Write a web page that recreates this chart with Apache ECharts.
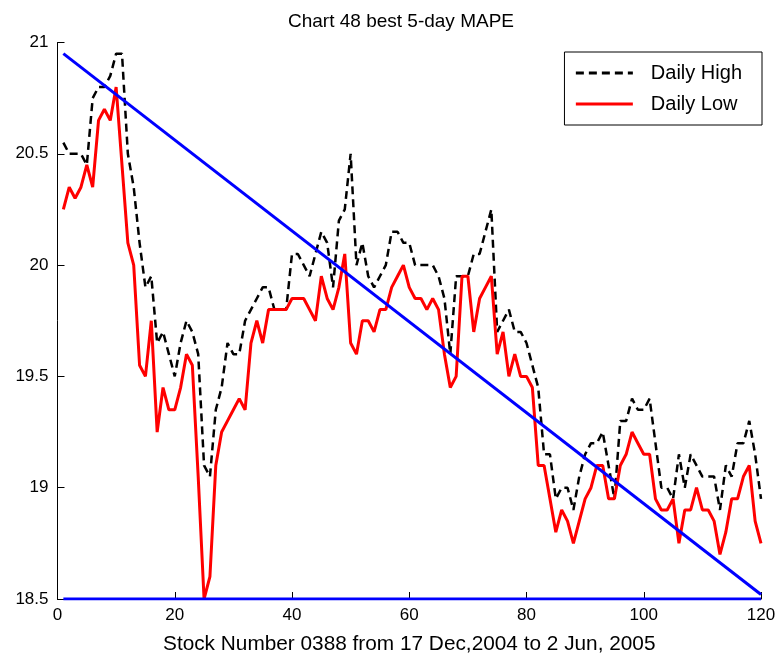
<!DOCTYPE html>
<html>
<head>
<meta charset="utf-8">
<title>Chart 48 best 5-day MAPE</title>
<script src="https://cdn.jsdelivr.net/npm/echarts@6/dist/echarts.min.js"></script>
<style>
  html, body { margin: 0; padding: 0; background: #fff; }
  #chart { width: 783px; height: 661px; }
</style>
</head>
<body>
<div id="chart"></div>
<script>
// Daily high / low prices for stock 0388, trading days 1..120
const dailyHigh = [
  20.55, 20.5, 20.5, 20.5, 20.45, 20.75, 20.8, 20.8, 20.85, 20.95,
  20.95, 20.5, 20.35, 20.1, 19.9, 19.95, 19.65, 19.7, 19.6, 19.5,
  19.65, 19.75, 19.7, 19.6, 19.1, 19.05, 19.35, 19.45, 19.65, 19.6,
  19.6, 19.75, 19.8, 19.85, 19.9, 19.9, 19.8, 19.8, 19.8, 20.05,
  20.05, 20.0, 19.95, 20.05, 20.15, 20.1, 19.9, 20.2, 20.25, 20.5,
  20.0, 20.1, 19.95, 19.9, 19.95, 20.0, 20.15, 20.15, 20.1, 20.1,
  20.0, 20.0, 20.0, 20.0, 19.95, 19.85, 19.6, 19.95, 19.95, 19.95,
  20.05, 20.05, 20.15, 20.25, 19.7, 19.75, 19.8, 19.7, 19.7, 19.65,
  19.55, 19.45, 19.15, 19.15, 18.95, 19.0, 19.0, 18.9, 19.05, 19.15,
  19.2, 19.2, 19.25, 19.1, 18.95, 19.3, 19.3, 19.4, 19.35, 19.35,
  19.4, 19.2, 19.0, 19.0, 18.95, 19.15, 19.0, 19.15, 19.1, 19.05,
  19.05, 19.05, 18.9, 19.1, 19.05, 19.2, 19.2, 19.3, 19.15, 18.95
];
const dailyLow = [
  20.25, 20.35, 20.3, 20.35, 20.45, 20.35, 20.65, 20.7, 20.65, 20.8,
  20.45, 20.1, 20.0, 19.55, 19.5, 19.75, 19.25, 19.45, 19.35, 19.35,
  19.45, 19.6, 19.55, 19.05, 18.5, 18.6, 19.1, 19.25, 19.3, 19.35,
  19.4, 19.35, 19.65, 19.75, 19.65, 19.8, 19.8, 19.8, 19.8, 19.85,
  19.85, 19.85, 19.8, 19.75, 19.95, 19.85, 19.8, 19.9, 20.05, 19.65,
  19.6, 19.75, 19.75, 19.7, 19.8, 19.8, 19.9, 19.95, 20.0, 19.9,
  19.85, 19.85, 19.8, 19.85, 19.8, 19.6, 19.45, 19.5, 19.95, 19.95,
  19.7, 19.85, 19.9, 19.95, 19.6, 19.7, 19.5, 19.6, 19.5, 19.5,
  19.45, 19.1, 19.1, 18.95, 18.8, 18.9, 18.85, 18.75, 18.85, 18.95,
  19.0, 19.1, 19.1, 18.95, 18.95, 19.1, 19.15, 19.25, 19.2, 19.15,
  19.15, 18.95, 18.9, 18.9, 18.95, 18.75, 18.9, 18.9, 19.0, 18.9,
  18.9, 18.85, 18.7, 18.8, 18.95, 18.95, 19.05, 19.1, 18.85, 18.75
];
// Straight trend line from the first to the last day, and the floor line
const trendDays = [1, 120];
const trendValues = [20.95, 18.52];
const floorDays = [1, 120];
const floorValues = [18.5, 18.5];

const xTicks = { min: 0, max: 120, step: 20 };
const yTicks = { min: 18.5, max: 21, step: 0.5 };

const pairs = (xs, ys) => ys.map((v, i) => [xs[i], v]);
const days = dailyHigh.map((_, i) => i + 1);

const FONT = 'Liberation Sans, Arial, sans-serif';
const chart = echarts.init(document.getElementById('chart'), null, { renderer: 'canvas' });

chart.setOption({
  backgroundColor: '#ffffff',
  animation: false,
  title: {
    text: 'Chart 48 best 5-day MAPE',
    left: 396,
    top: 7,
    textAlign: 'center',
    textStyle: { fontFamily: FONT, fontSize: 19, fontWeight: 'normal', color: '#000' }
  },
  legend: {
    orient: 'vertical',
    right: 21,
    top: 52,
    data: ['Daily High', 'Daily Low'],
    itemWidth: 57,
    itemHeight: 14,
    itemGap: 11,
    padding: [11, 20, 11, 10],
    backgroundColor: '#fff',
    borderColor: '#000',
    borderWidth: 1,
    borderRadius: 0,
    // line samples only, no point markers
    itemStyle: { opacity: 0 },
    lineStyle: { opacity: 1, width: 2.8 },
    textStyle: { fontFamily: FONT, fontSize: 20, lineHeight: 20, color: '#000', padding: [0, 0, 0, 13] }
  },
  grid: { left: 57.5, right: 22, top: 42.5, bottom: 62, containLabel: false },
  xAxis: {
    type: 'value',
    min: xTicks.min, max: xTicks.max, interval: xTicks.step,
    name: 'Stock Number 0388 from 17 Dec,2004 to 2 Jun, 2005',
    nameLocation: 'middle',
    nameGap: 35,
    nameTextStyle: { fontFamily: FONT, fontSize: 20.8, color: '#000' },
    axisLine: { show: true, onZero: false, lineStyle: { color: '#000', width: 1 } },
    axisTick: { show: true, inside: true, length: 7, lineStyle: { color: '#000' } },
    axisLabel: { fontFamily: FONT, fontSize: 17, color: '#000', margin: 8 },
    splitLine: { show: false }
  },
  yAxis: {
    type: 'value',
    min: yTicks.min, max: yTicks.max, interval: yTicks.step,
    axisLine: { show: true, onZero: false, lineStyle: { color: '#000', width: 1 } },
    axisTick: { show: true, inside: true, length: 7, lineStyle: { color: '#000' } },
    axisLabel: { fontFamily: FONT, fontSize: 17, color: '#000', margin: 9 },
    splitLine: { show: false }
  },
  series: [
    {
      name: 'Daily High',
      type: 'line',
      data: pairs(days, dailyHigh),
      symbol: 'none',
      lineStyle: { color: '#000', width: 2.5, type: [8, 5] },
      itemStyle: { color: '#000' },
      z: 2
    },
    {
      name: 'Daily Low',
      type: 'line',
      data: pairs(days, dailyLow),
      symbol: 'none',
      lineStyle: { color: '#ff0000', width: 3 },
      itemStyle: { color: '#ff0000' },
      z: 3
    },
    {
      name: 'Trend',
      type: 'line',
      data: pairs(trendDays, trendValues),
      symbol: 'none',
      lineStyle: { color: '#0000ff', width: 3 },
      itemStyle: { color: '#0000ff' },
      z: 4
    },
    {
      name: 'Floor',
      type: 'line',
      data: pairs(floorDays, floorValues),
      symbol: 'none',
      lineStyle: { color: '#0000ff', width: 3 },
      itemStyle: { color: '#0000ff' },
      z: 4
    }
  ]
});
</script>
</body>
</html>
